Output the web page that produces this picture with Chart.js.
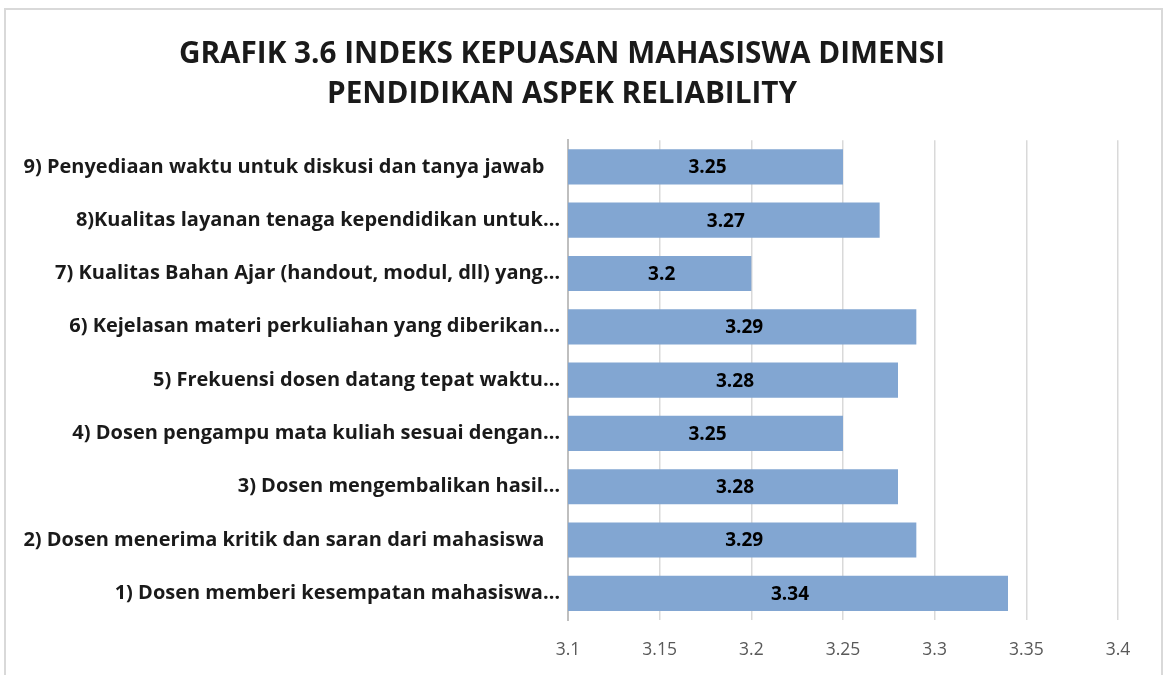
<!DOCTYPE html>
<html>
<head>
<meta charset="utf-8">
<script src="https://cdn.jsdelivr.net/npm/chart.js@4"></script>
<style>
  html, body { margin: 0; padding: 0; background: #fff; overflow: hidden; }
  #frame { position: absolute; left: 4px; top: 8px; width: 1155px; height: 700px; border: 2px solid #d9d9d9; }
  canvas { display: block; }
</style>
</head>
<body>
<div id="frame"><canvas id="grafik" width="1155" height="665"></canvas></div>
<script>
const kategori = [
    "9) Penyediaan waktu untuk diskusi dan tanya jawab   ",
    "8)Kualitas layanan tenaga kependidikan untuk…",
    "7) Kualitas Bahan Ajar (handout, modul, dll) yang…",
    "6) Kejelasan materi perkuliahan yang diberikan…",
    "5) Frekuensi dosen datang tepat waktu…",
    "4) Dosen pengampu mata kuliah sesuai dengan…",
    "3) Dosen mengembalikan hasil…",
    "2) Dosen menerima kritik dan saran dari mahasiswa   ",
    "1) Dosen memberi kesempatan mahasiswa…"
];
const nilai = [3.25, 3.27, 3.2, 3.29, 3.28, 3.25, 3.28, 3.29, 3.34];
const tickLabels = ["3.1", "3.15", "3.2", "3.25", "3.3", "3.35", "3.4"];
const judul = ["GRAFIK 3.6 INDEKS KEPUASAN MAHASISWA DIMENSI", "PENDIDIKAN ASPEK RELIABILITY"];

// label angka di tengah batang (batang mulai dari tepi kiri area grafik)
const labelNilai = {
    id: 'labelNilai',
    afterDatasetsDraw(chart) {
        const c = chart.ctx;
        const meta = chart.getDatasetMeta(0);
        const kiri = chart.chartArea.left;
        c.save();
        c.font = 'bold 19px "Open Sans", sans-serif';
        c.fillStyle = '#000000';
        c.textAlign = 'center';
        c.textBaseline = 'middle';
        meta.data.forEach(function (bar, i) {
            c.fillText(nilai[i].toString(), (bar.x + kiri) / 2 + 2, bar.y + 1);
        });
        c.restore();
    }
};

const ctx = document.getElementById('grafik').getContext('2d');
new Chart(ctx, {
    type: 'bar',
    data: {
        labels: kategori,
        datasets: [{
            data: nilai,
            backgroundColor: 'rgb(130, 166, 210)',
            borderWidth: 0,
            barPercentage: 0.66,
            categoryPercentage: 1
        }]
    },
    options: {
        indexAxis: 'y',
        responsive: false,
        animation: false,
        layout: { padding: { left: 0, right: 43, top: 0, bottom: 10 } },
        plugins: {
            legend: { display: false },
            tooltip: { enabled: false },
            title: {
                display: true,
                text: judul,
                color: '#1a1a1a',
                font: { family: '"Open Sans"', size: 29.7, weight: 'bold', lineHeight: 1.35 },
                padding: { top: 24, bottom: 26 }
            }
        },
        scales: {
            x: {
                min: 3.1,
                max: 3.4,
                afterFit: function (scale) { scale.height = 45; },
                ticks: {
                    stepSize: 0.05,
                    padding: 20,
                    color: '#595959',
                    font: { family: '"Open Sans"', size: 17.5 },
                    callback: function (v, i) { return tickLabels[i]; }
                },
                grid: { color: '#d9d9d9', lineWidth: 1.5, drawTicks: false },
                border: { display: false }
            },
            y: {
                afterFit: function (scale) { scale.width = 562; },
                ticks: {
                    padding: 8,
                    color: '#1a1a1a',
                    font: { family: '"Open Sans"', size: 20, weight: 'bold' }
                },
                grid: { display: false, drawTicks: false },
                border: { display: true, color: '#bfbfbf', width: 2 }
            }
        }
    },
    plugins: [labelNilai]
});
</script>
</body>
</html>
